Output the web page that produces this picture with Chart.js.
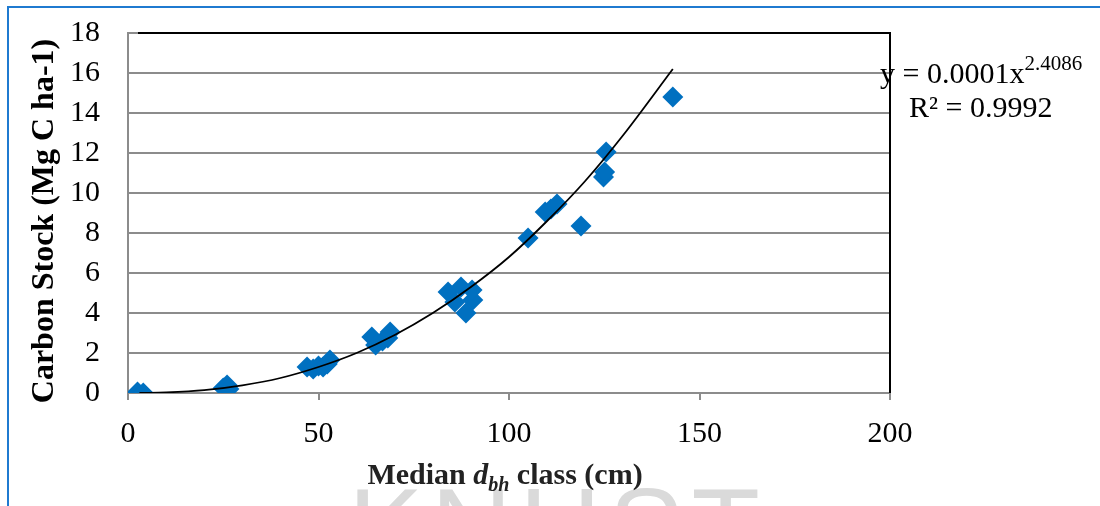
<!DOCTYPE html>
<html>
<head>
<meta charset="utf-8">
<script src="https://cdn.jsdelivr.net/npm/chart.js@4"></script>
<style>
  body { margin: 0; background: #fff; }
  #wrap { width: 1100px; height: 506px; position: relative; }
</style>
</head>
<body>
<div id="wrap"><canvas id="chart" width="1100" height="506"></canvas></div>
<script>
// values
const dbhClass = [2.5, 4.0, 25.0, 26.0, 26.5, 47.0, 48.6, 50.0, 51.2, 52.3, 53.0,
                  64.0, 65.0, 66.8, 68.2, 68.8, 84.0, 85.8, 87.4, 88.7, 90.5, 90.3,
                  105.0, 109.5, 111.0, 112.6, 118.9, 124.8, 125.1, 125.5, 143.0];
const carbonStock = [0.05, 0.0, 0.25, 0.4, 0.2, 1.3, 1.2, 1.35, 1.3, 1.45, 1.65,
                     2.8, 2.4, 2.6, 2.75, 3.05, 5.05, 4.55, 5.3, 4.0, 4.65, 5.15,
                     7.75, 9.05, 9.2, 9.45, 8.35, 10.8, 11.05, 12.05, 14.8];

// power trendline, sampled off the drawn curve
const trendX = [3, 10, 20, 30, 40, 50, 60, 70, 80, 90, 100, 110, 120, 130, 143];
const trendY = [0, 0.03, 0.14, 0.38, 0.75, 1.3, 2.0, 2.9, 4.0, 5.3, 6.8, 8.6, 10.6, 12.9, 16.2];

const xTicks = [0, 50, 100, 150, 200];
const yTicks = [0, 2, 4, 6, 8, 10, 12, 14, 16, 18];

const serif = "'Liberation Serif', 'Times New Roman', serif";

const decorations = {
    id: 'decorations',
    beforeDraw(chart) {
        const ctx = chart.ctx;
        ctx.save();
        // outer blue frame (left and top)
        ctx.strokeStyle = '#1f7ad0';
        ctx.lineWidth = 2;
        ctx.beginPath();
        ctx.moveTo(8, 506); ctx.lineTo(8, 7); ctx.lineTo(1100, 7);
        ctx.stroke();
        // watermark
        ctx.fillStyle = '#dadada';
        ctx.font = "112px 'Liberation Sans', Arial, sans-serif";
        ctx.textAlign = 'center';
        ctx.textBaseline = 'alphabetic';
        if ('letterSpacing' in ctx) ctx.letterSpacing = '8px';
        ctx.fillText('KNUST', 558, 566);
        ctx.restore();
    },
    afterDraw(chart) {
        const ctx = chart.ctx;
        const a = chart.chartArea;
        ctx.save();
        // plot border top / right
        ctx.strokeStyle = '#000';
        ctx.lineWidth = 2;
        ctx.beginPath();
        ctx.moveTo(a.left + 10, a.top); ctx.lineTo(a.right, a.top); ctx.lineTo(a.right, a.bottom);
        ctx.stroke();

        ctx.fillStyle = '#000';
        // y title
        ctx.save();
        ctx.translate(45, 221);
        ctx.rotate(-Math.PI / 2);
        ctx.font = 'bold 32px ' + serif;
        ctx.textAlign = 'center';
        ctx.textBaseline = 'middle';
        ctx.fillText('Carbon Stock (Mg C ha-1)', 0, 0);
        ctx.restore();

        // x title with italic d and subscript bh
        const parts = [
            { t: 'Median ', f: 'bold 30px ' + serif, dy: 0 },
            { t: 'd', f: 'italic bold 30px ' + serif, dy: 0 },
            { t: 'bh', f: 'italic bold 20px ' + serif, dy: 7 },
            { t: ' class (cm)', f: 'bold 30px ' + serif, dy: 0 }
        ];
        let total = 0;
        parts.forEach(p => { ctx.font = p.f; p.w = ctx.measureText(p.t).width; total += p.w; });
        let x = 505 - total / 2;
        ctx.textAlign = 'left';
        ctx.textBaseline = 'alphabetic';
        ctx.fillStyle = '#222';
        parts.forEach(p => { ctx.font = p.f; ctx.fillText(p.t, x, 484 + p.dy); x += p.w; });

        // trendline equation
        ctx.fillStyle = '#000';
        ctx.font = '30px ' + serif;
        const eq = 'y = 0.0001x';
        ctx.fillText(eq, 880, 83);
        const ew = ctx.measureText(eq).width;
        ctx.font = '21px ' + serif;
        ctx.fillText('2.4086', 880 + ew, 70);
        ctx.font = '30px ' + serif;
        ctx.fillText('R\u00b2 = 0.9992', 909, 117);
        ctx.restore();
    }
};

new Chart(document.getElementById('chart'), {
    type: 'scatter',
    data: {
        datasets: [
            {
                label: 'Carbon stock',
                data: dbhClass.map((d, i) => ({ x: d, y: carbonStock[i] })),
                pointStyle: 'rectRot',
                pointRadius: 10.5,
                pointBorderWidth: 0,
                backgroundColor: '#0070c0',
                borderColor: '#0070c0',
                order: 2
            },
            {
                label: 'Power trend',
                type: 'line',
                data: trendX.map((d, i) => ({ x: d, y: trendY[i] })),
                borderColor: '#000',
                borderWidth: 1.8,
                pointRadius: 0,
                fill: false,
                cubicInterpolationMode: 'monotone',
                order: 1
            }
        ]
    },
    options: {
        responsive: false,
        animation: false,
        layout: { padding: { left: 0, right: 210, top: 33, bottom: 0 } },
        plugins: { legend: { display: false }, tooltip: { enabled: false } },
        scales: {
            x: {
                type: 'linear',
                min: 0, max: 200,
                afterBuildTicks: s => { s.ticks = xTicks.map(v => ({ value: v })); },
                afterFit: s => { s.height = 113; s.paddingLeft = 0; s.paddingRight = 0; },
                grid: { drawOnChartArea: false, drawTicks: true, tickLength: 7, color: '#8c8c8c', lineWidth: 2 },
                border: { color: '#8c8c8c', width: 2 },
                ticks: { color: '#000', font: { family: serif, size: 30 }, padding: 16, maxRotation: 0, autoSkip: false }
            },
            y: {
                min: 0, max: 18,
                afterBuildTicks: s => { s.ticks = yTicks.map(v => ({ value: v })); },
                afterFit: s => { s.width = 128; s.paddingTop = 0; s.paddingBottom = 0; },
                grid: { drawTicks: false, color: '#8c8c8c', lineWidth: 2 },
                border: { color: '#8c8c8c', width: 2 },
                ticks: { color: '#000', font: { family: serif, size: 30 }, padding: 28, autoSkip: false }
            }
        }
    },
    plugins: [decorations]
});
</script>
</body>
</html>
